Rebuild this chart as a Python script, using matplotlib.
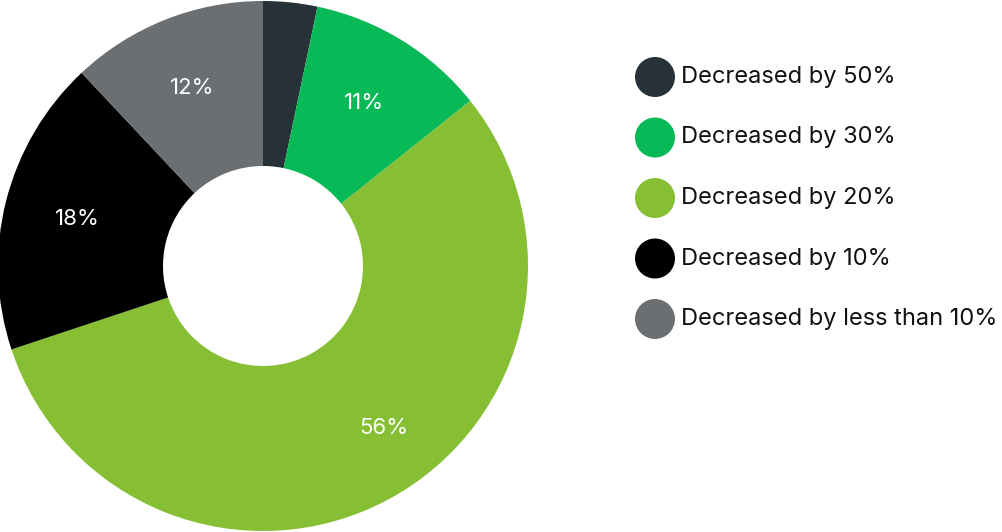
import matplotlib.pyplot as plt
from matplotlib.patches import Circle

plt.rcParams['font.family'] = ['Inter', 'DejaVu Sans']

# data
labels = ['Decreased by 50%', 'Decreased by 30%', 'Decreased by 20%',
          'Decreased by 10%', 'Decreased by less than 10%']
values = [3.3, 11.0, 55.6, 18.1, 12.0]
colors = ['#263238', '#08b957', '#86bf33', '#000000', '#6c6f72']

W, H = 1003, 532
fig = plt.figure(figsize=(W / 100, H / 100), dpi=100)

# donut
cx, cy, r = 263, 266, 265
ax = fig.add_axes([(cx - 266) / W, (H - cy - 266) / H, 532 / W, 532 / H])
wedges, _, autotexts = ax.pie(
    values, colors=colors, startangle=90, counterclock=False,
    radius=r / 266, autopct=lambda p: f'{p:.0f}%' if p >= 5 else '',
    pctdistance=0.72 / (r / 266), wedgeprops=dict(width=165 / 266, linewidth=0),
    textprops=dict(color='white', fontsize=16))
# the big slice label sits a bit off its mid-angle in the original
autotexts[2].set_position((0.455, -0.61))
ax.set_xlim(-1, 1)
ax.set_ylim(-1, 1)
ax.set_aspect('equal')

# legend drawn in pixel space
lax = fig.add_axes([0, 0, 1, 1])
lax.set_xlim(0, W)
lax.set_ylim(H, 0)
lax.axis('off')
y0, dy = 77, 60.5
for i, (lab, col) in enumerate(zip(labels, colors)):
    y = y0 + i * dy
    lax.add_patch(Circle((655, y), 20, color=col, lw=0))
    lax.text(681, y, lab, va='center', ha='left', fontsize=17, color='#111111')

fig.savefig('out.png', dpi=100, facecolor='white')
